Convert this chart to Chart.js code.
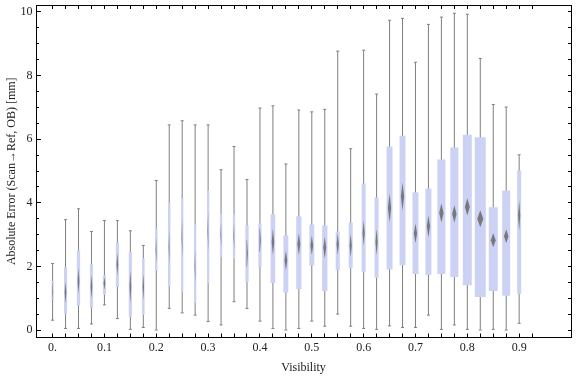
<!DOCTYPE html>
<html>
<head>
<meta charset="utf-8">
<script src="https://cdn.jsdelivr.net/npm/chart.js@4.4.0/dist/chart.umd.min.js"></script>
<style>
  html, body { margin: 0; padding: 0; background: #fff; }
  #wrap { width: 576px; height: 377px; }
</style>
</head>
<body>
<div id="wrap"><canvas id="chart"></canvas></div>
<script>
// ------------------------
// DATA
// ------------------------

const visibility = [0, 0.025, 0.05, 0.075, 0.1, 0.125, 0.15, 0.175, 0.2, 0.225,
    0.25, 0.275, 0.3, 0.325, 0.35, 0.375, 0.4, 0.425, 0.45, 0.475,
    0.5, 0.525, 0.55, 0.575, 0.6, 0.625, 0.65, 0.675, 0.7, 0.725,
    0.75, 0.775, 0.8, 0.825, 0.85, 0.875, 0.9];

const whiskerLow = [0.31, 0.05, 0.05, 0.19, 0.79, 0.36, 0.02, 0.08, 0.0, 0.68,
    0.54, 0.47, 0.27, 0.16, 0.89, 0.68, 0.28, 0.05, 0.0, 0.05,
    0.28, 0.12, 0.5, 0.12, 0.05, 0.02, 0.13, 0.08, 0.08, 0.47,
    0.02, 0.16, 0.02, 0.0, 0.02, 0.0, 0.21];

const quartile1 = [0.94, 0.51, 0.76, 0.70, 1.11, 1.37, 0.42, 0.48, 1.86, 1.36,
    1.20, 0.86, 1.48, 2.30, 2.25, 1.51, 1.98, 1.48, 1.17, 1.29,
    2.03, 1.23, 1.88, 1.95, 1.82, 1.64, 1.90, 2.04, 1.76, 1.73,
    1.76, 1.67, 1.41, 1.04, 1.23, 1.08, 1.13];

const quartile3 = [1.54, 1.97, 2.51, 2.07, 1.72, 2.75, 2.46, 2.26, 3.19, 4.01,
    4.14, 3.32, 4.39, 3.64, 3.64, 3.29, 3.35, 3.64, 2.98, 3.57,
    3.32, 3.29, 3.10, 3.38, 4.61, 4.17, 5.77, 6.11, 4.33, 4.45,
    5.36, 5.74, 6.14, 6.06, 3.86, 4.39, 5.02];

const whiskerHigh = [2.09, 3.47, 3.81, 3.10, 3.44, 3.44, 3.12, 2.66, 4.70, 6.45,
    6.58, 6.45, 6.45, 5.04, 5.77, 4.73, 6.98, 7.05, 5.22, 6.92,
    6.86, 6.94, 8.77, 5.70, 8.80, 7.42, 9.74, 9.80, 8.42, 9.61,
    9.84, 9.96, 9.93, 8.54, 7.09, 7.01, 5.51];

// mean diamond: centre and half height (confidence)
const meanValue = [1.20, 1.18, 1.54, 1.36, 1.47, 2.07, 1.36, 1.36, 2.51, 2.60,
    2.90, 2.00, 3.10, 3.00, 2.95, 2.41, 2.82, 2.77, 2.19, 2.70,
    2.66, 2.59, 2.70, 2.66, 3.05, 2.77, 3.84, 4.20, 3.04, 3.26,
    3.68, 3.65, 3.87, 3.50, 2.82, 2.95, 3.60];

const meanSpread = [0.30, 0.34, 0.40, 0.37, 0.20, 0.35, 0.52, 0.42, 0.42, 0.55,
    0.60, 0.52, 0.63, 0.40, 0.44, 0.42, 0.37, 0.42, 0.31, 0.34,
    0.31, 0.34, 0.34, 0.37, 0.40, 0.42, 0.45, 0.44, 0.31, 0.34,
    0.30, 0.27, 0.27, 0.27, 0.22, 0.22, 0.47];

// relative box width (share of the bin)
const boxWeight = [0.15, 0.24, 0.25, 0.24, 0.24, 0.24, 0.24, 0.2, 0.19, 0.18,
    0.18, 0.18, 0.18, 0.18, 0.18, 0.25, 0.25, 0.36, 0.38, 0.41,
    0.38, 0.41, 0.31, 0.31, 0.31, 0.31, 0.46, 0.46, 0.46, 0.46,
    0.62, 0.62, 0.69, 0.85, 0.69, 0.62, 0.31];

const xTickValues = visibility.concat([0.925]);
const xLabelValues = [0, 0.1, 0.2, 0.3, 0.4, 0.5, 0.6, 0.7, 0.8, 0.9];
const xLabelText = ['0.', '0.1', '0.2', '0.3', '0.4', '0.5', '0.6', '0.7', '0.8', '0.9'];

const yMajorValues = [0, 2, 4, 6, 8, 10];
const yTickValues = [0, 0.5, 1, 1.5, 2, 2.5, 3, 3.5, 4, 4.5, 5, 5.5, 6, 6.5,
    7, 7.5, 8, 8.5, 9, 9.5, 10];

// ------------------------
// STYLE
// ------------------------

const BIN = 0.025;
const DIAMOND_SCALE = 0.55;   // diamond width relative to its box
const BOX_COLOR = 'rgb(204,210,244)';
const WHISKER_COLOR = '#7f7f7f';
const DIAMOND_COLOR = 'rgba(105,105,105,0.85)';
const TEXT_COLOR = '#222';
const FRAME_COLOR = '#000';

Chart.defaults.font.family = "'Liberation Serif', 'Times New Roman', serif";
Chart.defaults.font.size = 12;

// ------------------------
// DATASETS
// ------------------------

function buildDatasets() {
    const sets = [];

    sets.push({
        type: 'bar',
        label: 'whiskers',
        data: visibility.map((v, i) => ({ x: v, y: [whiskerLow[i], whiskerHigh[i]] })),
        backgroundColor: WHISKER_COLOR,
        grouped: false,
        maxBarThickness: 1,
        order: 3
    });

    const caps = [];
    visibility.forEach((v, i) => {
        caps.push({ x: v, y: whiskerLow[i] });
        caps.push({ x: v, y: whiskerHigh[i] });
    });
    sets.push({
        type: 'line',
        label: 'caps',
        data: caps,
        showLine: false,
        pointStyle: 'line',
        pointRadius: 1.5,
        pointBorderWidth: 1,
        pointBorderColor: WHISKER_COLOR,
        order: 2
    });

    visibility.forEach((v, i) => {
        sets.push({
            type: 'bar',
            label: 'box ' + v,
            data: [{ x: v, y: [quartile1[i], quartile3[i]] }],
            backgroundColor: BOX_COLOR,
            grouped: false,
            categoryPercentage: 1,
            barPercentage: boxWeight[i],
            order: 1
        });

        const hw = boxWeight[i] * BIN / 2 * DIAMOND_SCALE;
        const m = meanValue[i], s = meanSpread[i];
        sets.push({
            type: 'line',
            label: 'mean ' + v,
            data: [
                { x: v, y: m + s },
                { x: v + hw, y: m },
                { x: v, y: m - s },
                { x: v - hw, y: m },
                { x: v, y: m + s }
            ],
            fill: 'shape',
            backgroundColor: DIAMOND_COLOR,
            borderColor: 'rgba(0,0,0,0)',
            borderWidth: 0,
            pointRadius: 0,
            tension: 0,
            order: 0
        });
    });

    return sets;
}

// ------------------------
// AXES
// ------------------------

function xLabel(value) {
    const idx = xLabelValues.findIndex(v => Math.abs(v - value) < 1e-6);
    return idx >= 0 ? xLabelText[idx] : '';
}

function frameGrid(len) {
    return {
        offset: false,
        drawOnChartArea: false,
        drawTicks: true,
        tickLength: len,
        tickColor: FRAME_COLOR,
        tickWidth: 1
    };
}

// fixed axis box size, no extra room for overhanging labels
function fixSize(prop, size) {
    return s => {
        s[prop] = size;
        s.paddingTop = 0;
        s.paddingBottom = 0;
        s.paddingLeft = 0;
        s.paddingRight = 0;
    };
}

const xRange = { min: -0.032, max: 1.0 };
const yRange = { min: -0.235, max: 10.22 };

const scales = {
    x: {
        type: 'linear', position: 'bottom', offset: false,
        min: xRange.min, max: xRange.max,
        afterBuildTicks: s => { s.ticks = xTickValues.map(v => ({ value: v })); },
        afterFit: fixSize('height', 39.5),
        grid: frameGrid(-4),
        border: { display: true, color: FRAME_COLOR, width: 1 },
        ticks: { autoSkip: false, maxRotation: 0, padding: 7, color: TEXT_COLOR, callback: v => xLabel(v) },
        title: { display: true, text: 'Visibility', color: TEXT_COLOR, padding: { top: 0, bottom: 2 } }
    },
    x2: {
        axis: 'x', type: 'linear', position: 'top', offset: false,
        min: xRange.min, max: xRange.max,
        afterBuildTicks: s => { s.ticks = xTickValues.map(v => ({ value: v })); },
        afterFit: fixSize('height', 4),
        grid: frameGrid(-4),
        border: { display: true, color: FRAME_COLOR, width: 1 },
        ticks: { display: false, autoSkip: false }
    },
    y: {
        type: 'linear', position: 'left', weight: 1,
        min: yRange.min, max: yRange.max,
        afterBuildTicks: s => { s.ticks = yMajorValues.map(v => ({ value: v })); },
        afterFit: fixSize('width', 36),
        grid: frameGrid(-5),
        border: { display: true, color: FRAME_COLOR, width: 1 },
        ticks: { autoSkip: false, padding: 8.5, color: TEXT_COLOR, callback: v => String(v) },
        title: { display: true, text: 'Absolute Error (Scan\u2192Ref, OB) [mm]', color: TEXT_COLOR, padding: { top: 4.5, bottom: 0 } }
    },
    yMinor: {
        axis: 'y', type: 'linear', position: 'left', weight: 0,
        min: yRange.min, max: yRange.max,
        afterBuildTicks: s => { s.ticks = yTickValues.map(v => ({ value: v })); },
        afterFit: fixSize('width', 0),
        grid: frameGrid(-3),
        border: { display: false },
        ticks: { display: false, autoSkip: false }
    },
    y2: {
        axis: 'y', type: 'linear', position: 'right',
        min: yRange.min, max: yRange.max,
        afterBuildTicks: s => { s.ticks = yTickValues.map(v => ({ value: v })); },
        afterFit: fixSize('width', 3.5),
        grid: frameGrid(-3),
        border: { display: true, color: FRAME_COLOR, width: 1 },
        ticks: { display: false, autoSkip: false }
    }
};

// ------------------------
// CHART
// ------------------------

new Chart(document.getElementById('chart'), {
    type: 'bar',
    data: { datasets: buildDatasets() },
    options: {
        responsive: true,
        maintainAspectRatio: false,
        animation: false,
        events: [],
        layout: { padding: 0 },
        plugins: {
            legend: { display: false },
            tooltip: { enabled: false }
        },
        scales
    }
});
</script>
</body>
</html>
